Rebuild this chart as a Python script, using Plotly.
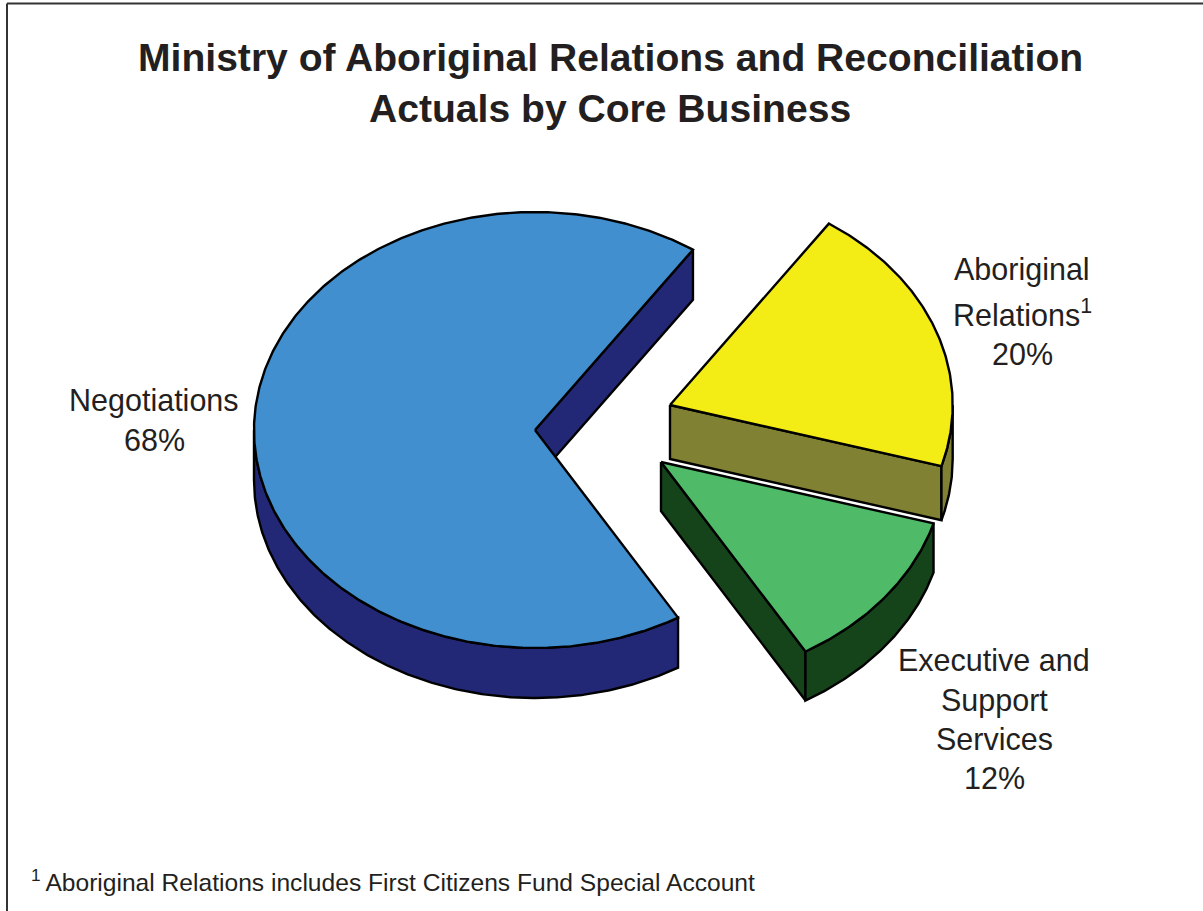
import math
import plotly.graph_objects as go

categories = ["Negotiations", "Executive and Support Services", "Aboriginal Relations"]
values = [68, 12, 20]

# ---- drawing set-up (pixel space of the page) ----
W, H = 1203, 911
CX, CY, RX, RY = 535, 430, 281, 218
START = 55.8  # angle where the first slice begins, degrees counter-clockwise from east
style = {
    "Negotiations": dict(top="#418FCE", side="#232876", off=(0, 0), depth=50, wall=(180, None), scale=1.0),
    "Executive and Support Services": dict(top="#4FBB68", side="#15441B", off=(126, 32), depth=49, wall=(None, None), scale=1.01),
    "Aboriginal Relations": dict(top="#F4EC15", side="#818133", off=(135, -25), depth=54, wall=(None, 360), scale=1.006),
}
LINE = dict(color="#000000", width=2.4)
FONT = "Liberation Sans, Arial, sans-serif"
INK = "#231F20"

total = sum(values)
spans = {}
a = START
for c, v in zip(categories, values):
    spans[c] = (a, a + v / total * 360)
    a += v / total * 360


def pt(deg, cx, cy, dy=0, k=1.0):
    r = math.radians(deg)
    return cx + k * RX * math.cos(r), cy - k * RY * math.sin(r) + dy


def arc(a0, a1, cx, cy, dy=0, k=1.0):
    n = max(2, int(abs(a1 - a0) * 2))
    return [pt(a0 + (a1 - a0) * i / n, cx, cy, dy, k) for i in range(n + 1)]


fig = go.Figure()


def poly(points, fill, name):
    xs = [p[0] for p in points] + [points[0][0]]
    ys = [p[1] for p in points] + [points[0][1]]
    fig.add_trace(go.Scatter(x=xs, y=ys, mode="lines", fill="toself", fillcolor=fill,
                             line=LINE, name=name, hoverinfo="name", showlegend=False))


def wedge(cat):
    s = style[cat]
    cx, cy = CX + s["off"][0], CY + s["off"][1]
    d, k = s["depth"], s["scale"]
    a0, a1 = spans[cat]
    # cut face at the leading edge of the slice
    poly([(cx, cy), pt(a0, cx, cy, 0, k), pt(a0, cx, cy, d, k), (cx, cy + d)], s["side"], cat)
    # outer wall: the part of the rim that faces the viewer
    lo = s["wall"][0] if s["wall"][0] is not None else a0
    hi = s["wall"][1] if s["wall"][1] is not None else a1
    poly(arc(lo, hi, cx, cy, 0, k) + arc(hi, lo, cx, cy, d, k), s["side"], cat)
    # top face
    poly([(cx, cy)] + arc(a0, a1, cx, cy, 0, k), s["top"], cat)


for c in categories:
    wedge(c)

ann = []


def text(x, y, s, size, bold=False, anchor="center"):
    ann.append(dict(x=x, y=y, xref="x", yref="y", text=f"<b>{s}</b>" if bold else s,
                    showarrow=False, xanchor=anchor, yanchor="middle",
                    font=dict(family=FONT, size=size, color=INK)))


text(610, 57, "Ministry of Aboriginal Relations and Reconciliation", 39.1, True)
text(610, 108, "Actuals by Core Business", 39.1, True)
text(154, 400, "Negotiations", 30.5)
text(154, 440, f"{values[0]}%", 30.5)
text(1022, 269, "Aboriginal", 30.5)
text(1022, 313, "Relations<sup>1</sup>", 30.5)
text(1022, 354, f"{values[2]}%", 30.5)
text(994, 660, "Executive and", 30.5)
text(994, 700, "Support", 30.5)
text(994, 739, "Services", 30.5)
text(994, 778, f"{values[1]}%", 30.5)
text(29, 880, "<sup>1 </sup>Aboriginal Relations includes First Citizens Fund Special Account", 24.6, anchor="left")

frame = [
    dict(type="line", xref="x", yref="y", x0=7, y0=3.5, x1=W, y1=3.5, line=dict(color="#333333", width=2)),
    dict(type="line", xref="x", yref="y", x0=7, y0=3.5, x1=7, y1=H, line=dict(color="#333333", width=2)),
]

fig.update_layout(
    width=W, height=H, margin=dict(l=0, r=0, t=0, b=0),
    paper_bgcolor="white", plot_bgcolor="white", showlegend=False,
    xaxis=dict(range=[0, W], visible=False, fixedrange=True),
    yaxis=dict(range=[H, 0], visible=False, fixedrange=True),
    annotations=ann, shapes=frame,
)
fig.write_html("out.html", config={"displayModeBar": False},
               post_script="document.body.style.margin='0';document.body.style.overflow='hidden';")
